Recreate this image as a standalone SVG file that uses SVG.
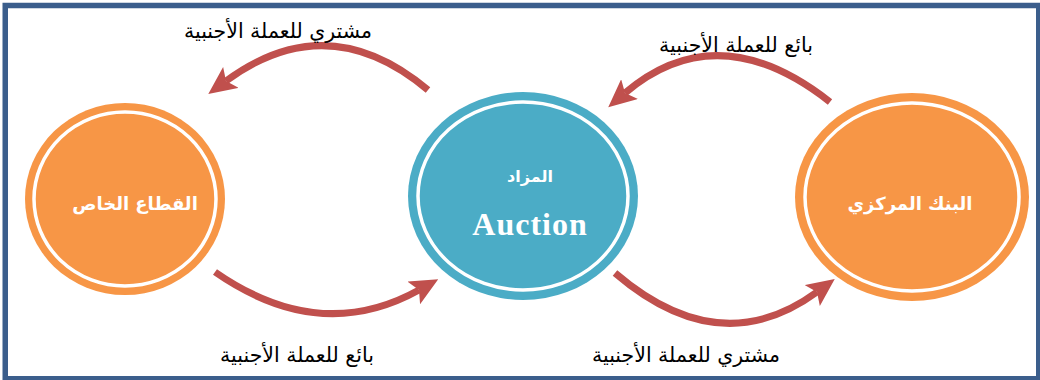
<svg xmlns="http://www.w3.org/2000/svg" width="1040" height="380" viewBox="0 0 1040 380">
  <style>
    .frame { fill: #ffffff; stroke: #3B5E8C; stroke-width: 5.5; }
    .orange { fill: #F79646; }
    .blue { fill: #4BACC6; }
    .ring { fill: none; stroke: #ffffff; stroke-width: 3.5; }
    .node-text { fill: #ffffff; font-family: "DejaVu Sans", "Noto Sans", sans-serif; font-weight: bold; text-anchor: middle; }
    .eng { fill: #ffffff; font-family: "Liberation Serif", serif; font-weight: bold; text-anchor: middle; }
    .arc { fill: none; stroke: #C0504D; stroke-width: 7; }
    .label { fill: #000000; font-family: "DejaVu Sans", "Noto Sans", sans-serif; font-size: 20.5px; text-anchor: middle; }
  </style>
  <defs>
    <marker id="head" markerUnits="userSpaceOnUse" viewBox="0 0 28 26" markerWidth="28" markerHeight="26" refX="6" refY="13" orient="auto">
      <path d="M0,0 L28,13 L0,26 L6,13 Z" fill="#C0504D"/>
    </marker>
  </defs>
  <rect class="frame" x="5.25" y="5.5" width="1033.5" height="373.25"/>

  <g id="node-private">
    <ellipse class="orange" cx="125" cy="199" rx="100" ry="96"/>
    <ellipse class="ring" cx="125" cy="199" rx="91" ry="87"/>
    <text class="node-text" x="135" y="210" font-size="18" direction="rtl">القطاع الخاص</text>
  </g>

  <g id="node-auction">
    <ellipse class="blue" cx="523" cy="196" rx="115" ry="104"/>
    <ellipse class="ring" cx="523" cy="196" rx="105" ry="94"/>
    <text class="node-text" x="530" y="182" font-size="16" direction="rtl">المزاد</text>
    <text class="eng" x="530" y="235" font-size="32" letter-spacing="1">Auction</text>
  </g>

  <g id="node-central">
    <ellipse class="orange" cx="912" cy="197" rx="117" ry="104"/>
    <ellipse class="ring" cx="912" cy="197" rx="107" ry="94"/>
    <text class="node-text" x="910" y="210" font-size="18" direction="rtl">البنك المركزي</text>
  </g>

  <g id="connectors">
    <path class="arc" d="M428,90 Q328,6 226,81" marker-end="url(#head)"/>
    <path class="arc" d="M830,102 Q718,14 625,93" marker-end="url(#head)"/>
    <path class="arc" d="M215,272 Q320,345 419,290" marker-end="url(#head)"/>
    <path class="arc" d="M615,273 Q720,363 817,292" marker-end="url(#head)"/>
  </g>

  <g id="labels">
    <text class="label" x="278" y="38" direction="rtl">مشتري للعملة الأجنبية</text>
    <text class="label" x="736" y="52" direction="rtl">بائع للعملة الأجنبية</text>
    <text class="label" x="297" y="362" direction="rtl">بائع للعملة الأجنبية</text>
    <text class="label" x="686" y="362" direction="rtl">مشتري للعملة الأجنبية</text>
  </g>
</svg>
